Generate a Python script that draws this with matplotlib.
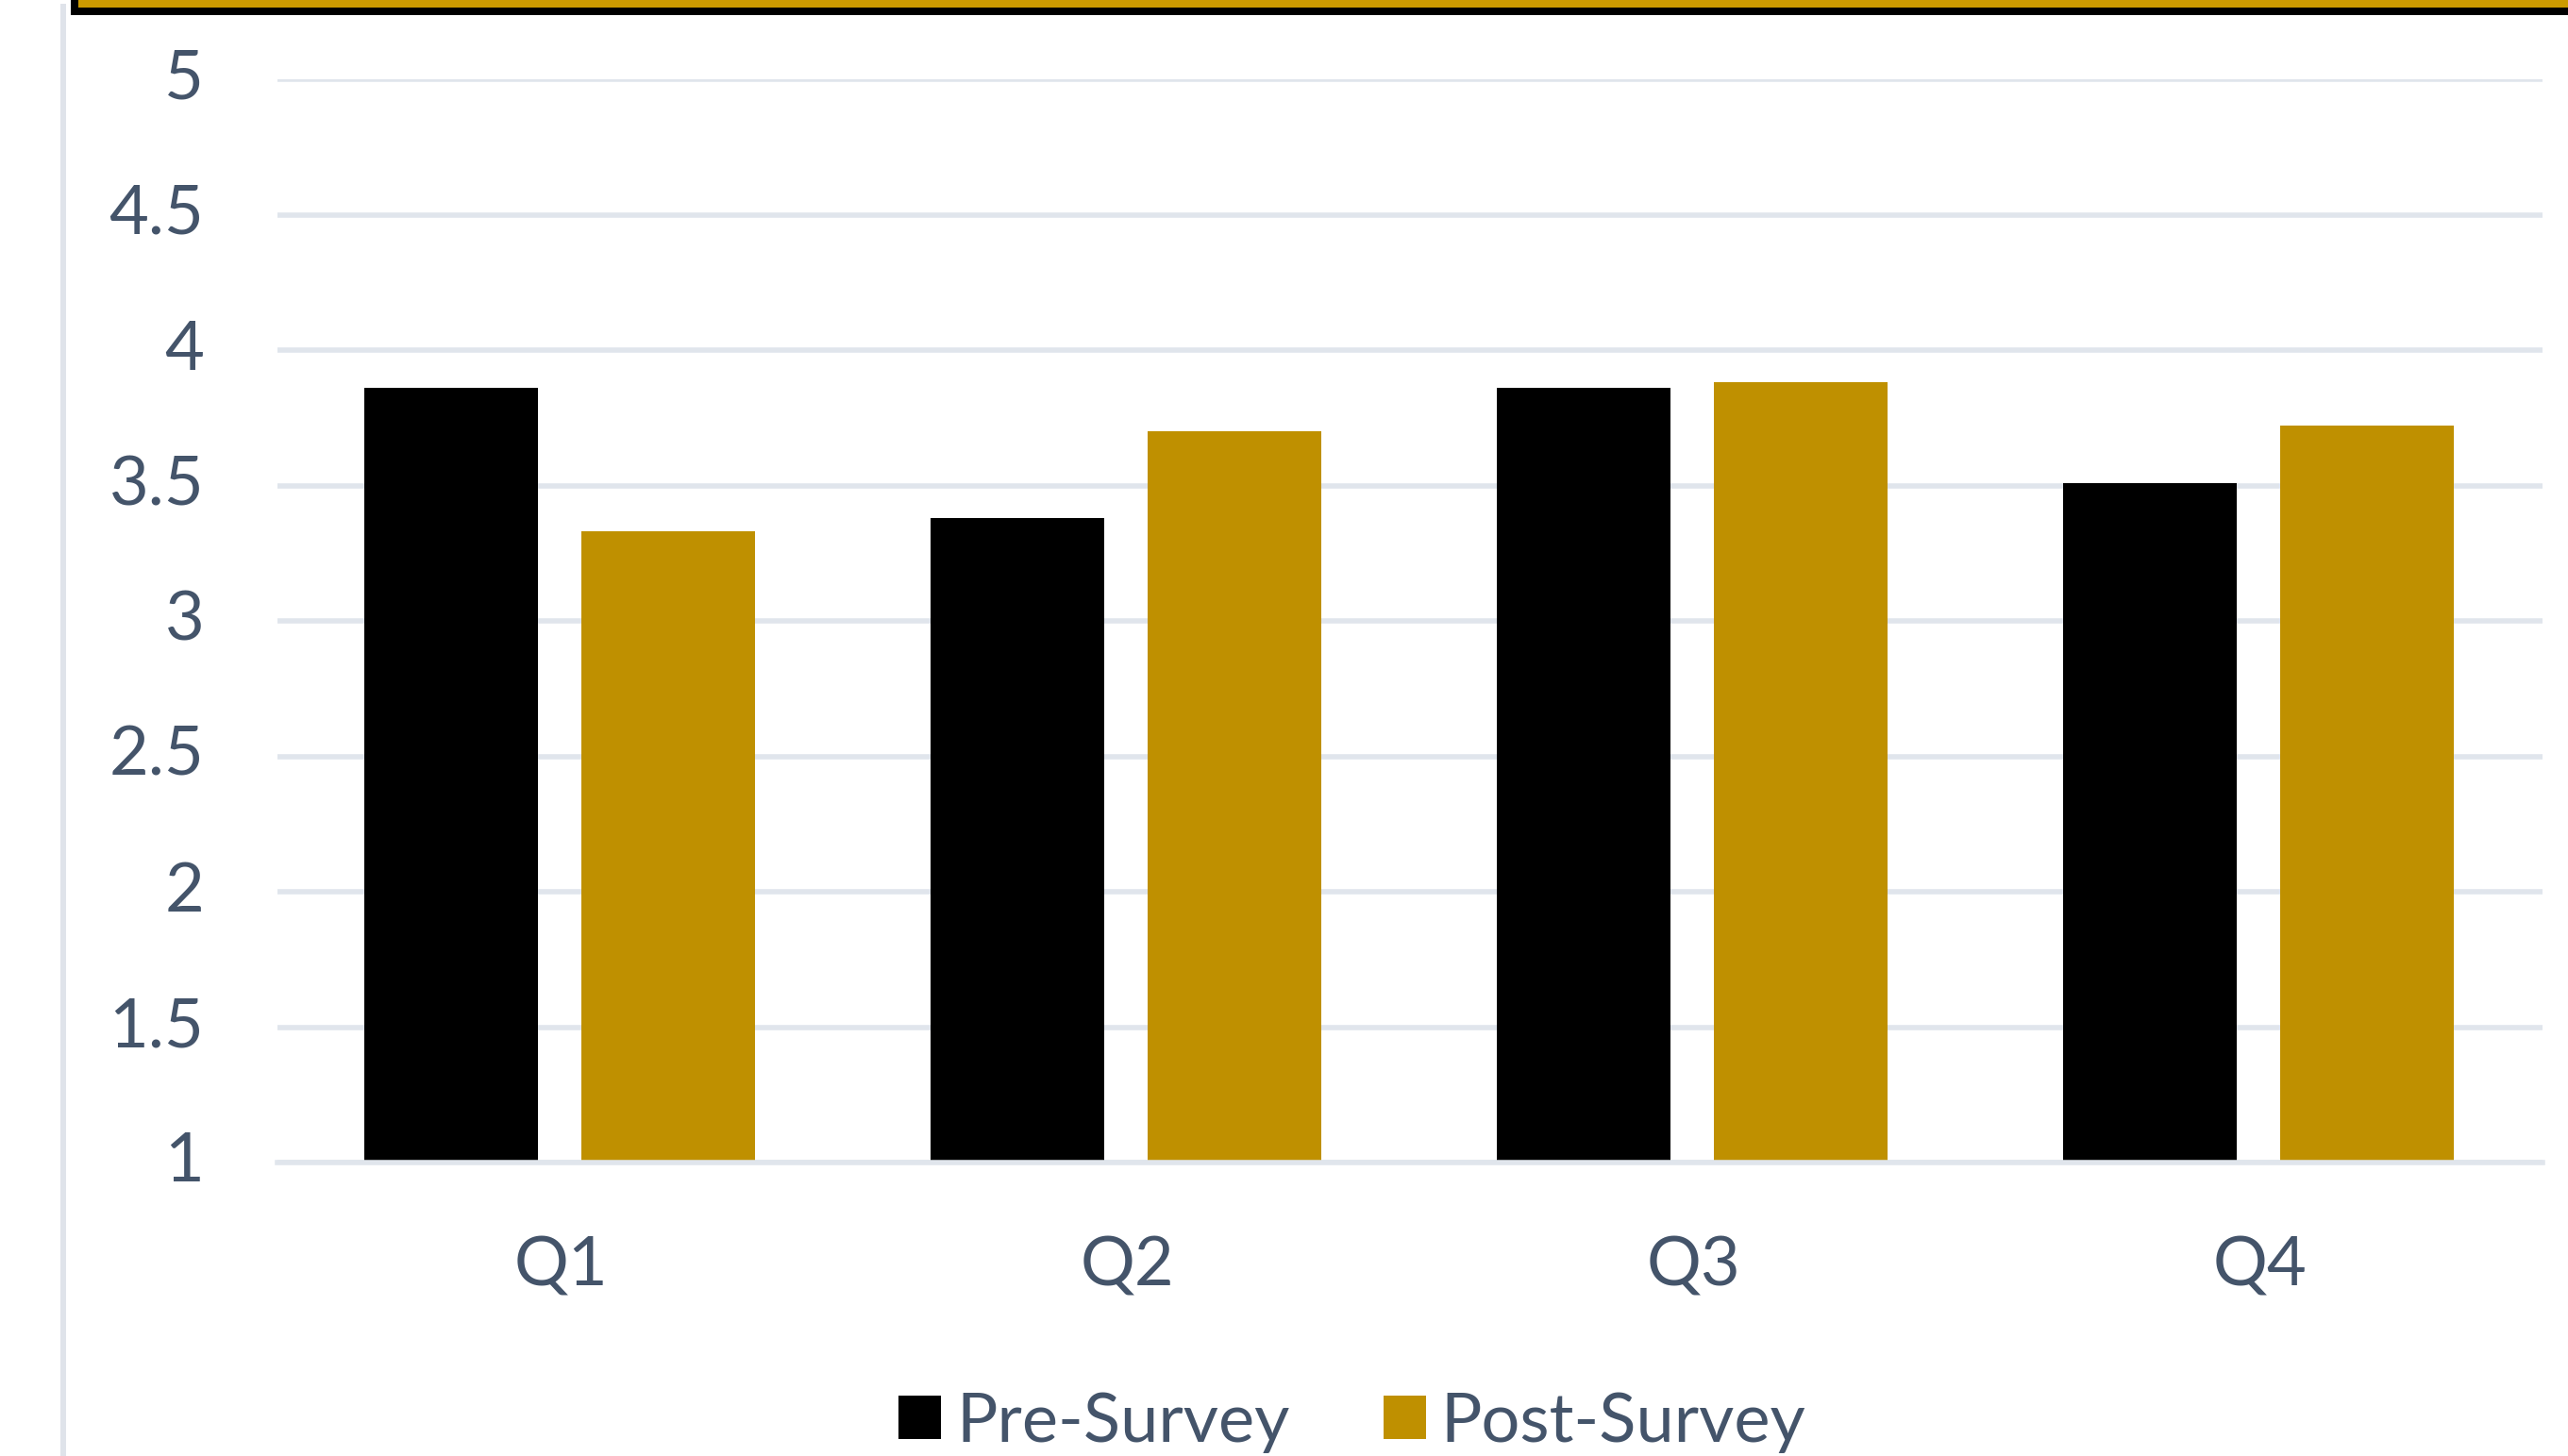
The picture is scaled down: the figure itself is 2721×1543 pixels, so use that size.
import matplotlib
matplotlib.use("Agg")
import matplotlib.pyplot as plt
from matplotlib.patches import Rectangle, Patch
import matplotlib.transforms as mtransforms
import numpy as np

categories = ["Q1", "Q2", "Q3", "Q4"]
pre_survey = [3.86, 3.38, 3.86, 3.51]
post_survey = [3.33, 3.70, 3.88, 3.72]
series_names = ["Pre-Survey", "Post-Survey"]
yticks = [1, 1.5, 2, 2.5, 3, 3.5, 4, 4.5, 5]
ytick_labels = ["1", "1.5", "2", "2.5", "3", "3.5", "4", "4.5", "5"]

plt.rcParams['font.family'] = ['Lato', 'DejaVu Sans']
TEXT = "#44546a"
GOLD = "#bf9000"
GRID = "#e0e5ec"

W, H = 2721, 1543
fig = plt.figure(figsize=(W / 100, H / 100), dpi=100)
fig.patch.set_facecolor("white")

# decorative top box and left line
fig.patches.append(Rectangle((75 / W, 1 - 16 / H), 1, 0.1, transform=fig.transFigure,
                             facecolor="black", edgecolor="none", zorder=0))
fig.patches.append(Rectangle((83 / W, 1 - 7.5 / H), 1, 0.1, transform=fig.transFigure,
                             facecolor="#cc9a00", edgecolor="none", zorder=1))
fig.patches.append(Rectangle((64 / W, 0), 6 / W, 1 - 4 / H, transform=fig.transFigure,
                             facecolor="#dfe3ea", edgecolor="none", zorder=0))

ax = fig.add_axes([294 / W, 1 - 1232 / H, 2400 / W, (1232 - 84) / H])
x = np.arange(len(categories))
bw = 0.307
ax.bar(x - 0.193, np.array(pre_survey) - 1, bottom=1, width=bw, color="black", zorder=2,
       label=series_names[0])
ax.bar(x + 0.19, np.array(post_survey) - 1, bottom=1, width=bw, color=GOLD, zorder=2,
       label=series_names[1])

ax.set_xlim(-0.5, 3.5)
ax.set_ylim(1, 5)
ax.set_yticks(yticks)
ax.set_yticklabels(ytick_labels)
ax.set_xticks(x)
ax.set_xticklabels(categories)
ax.tick_params(axis="both", length=0, labelsize=52, colors=TEXT)
ax.tick_params(axis="y", pad=56)
ax.tick_params(axis="x", pad=56)
ax.yaxis.grid(True, color=GRID, linewidth=4, zorder=0)
ax.set_axisbelow(True)
ax.axhline(1, color=GRID, linewidth=4, zorder=3, clip_on=False)
for s in ax.spines.values():
    s.set_visible(False)

offset = mtransforms.ScaledTranslation(0, 6 / 100, fig.dpi_scale_trans)
for lbl in ax.get_yticklabels():
    lbl.set_transform(lbl.get_transform() + offset)

handles = [Patch(facecolor="black", edgecolor="none"), Patch(facecolor=GOLD, edgecolor="none")]
leg = fig.legend(handles, series_names, loc="center", bbox_to_anchor=(1433 / W, 1 - 1507 / H),
                 ncol=2, frameon=False, fontsize=52, handlelength=0.62, handleheight=0.62,
                 handletextpad=0.22, columnspacing=1.38, borderpad=0, borderaxespad=0)
for t in leg.get_texts():
    t.set_color(TEXT)

fig.savefig("out.png", dpi=100, facecolor="white")
